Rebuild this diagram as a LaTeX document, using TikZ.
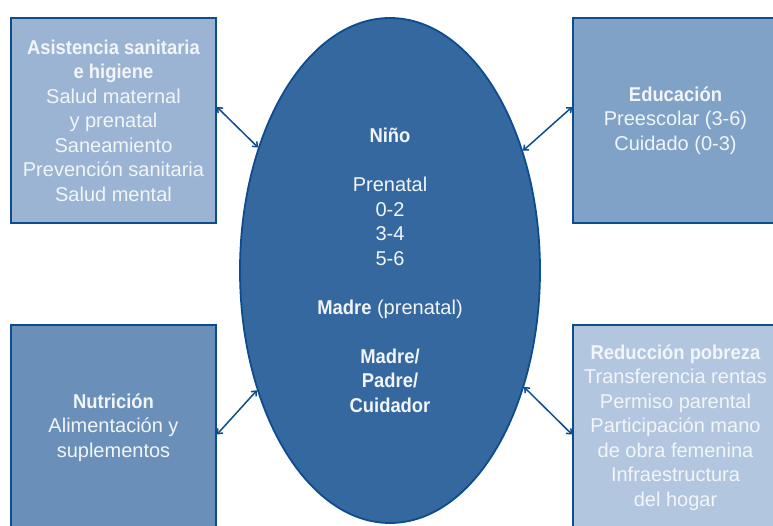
\documentclass[tikz,border=0pt]{standalone}
\usepackage{fontspec}
\setmainfont{Liberation Sans}[BoldFeatures={FakeStretch=0.92}]
\usetikzlibrary{arrows.meta,shapes.geometric}
\definecolor{rim}{HTML}{0D4C8E}
\definecolor{ovalblue}{HTML}{35689F}
\definecolor{boxA}{HTML}{9BB4D3}
\definecolor{boxB}{HTML}{7FA2C6}
\definecolor{boxC}{HTML}{6A90B9}
\definecolor{boxD}{HTML}{B2C7DF}
\definecolor{paletext}{HTML}{F2F5F9}
\tikzset{
	areabox/.style={draw=rim, line width=1.8pt, inner sep=0pt, minimum width=205pt,
		minimum height=205pt, text=paletext, align=center,
		font=\fontsize{20pt}{24.5pt}\selectfont},
	link/.style={draw=rim, line width=1.5pt, {Straight Barb[length=4pt,width=7pt]}-{Straight Barb[length=4pt,width=7pt]}}
}
\begin{document}
\begin{tikzpicture}
			\useasboundingbox (0,0) rectangle (773pt,525pt);
			\clip (0,0) rectangle (773pt,525pt);
			% the four areas
			\node[areabox, fill=boxA] (health) at (113.5pt,404.5pt) {\textbf{Asistencia sanitaria}\\\textbf{e higiene}\\Salud maternal\\y prenatal\\Saneamiento\\Prevención sanitaria\\Salud mental};
			\node[areabox, fill=boxB] (school) at (675.5pt,404.5pt) {\textbf{Educación}\\Preescolar (3-6)\\Cuidado (0-3)};
			\node[areabox, fill=boxC] (food) at (113.5pt,97.5pt) {\textbf{Nutrición}\\Alimentación y\\suplementos};
			\node[areabox, fill=boxD] (poverty) at (675.5pt,97.5pt) {\textbf{Reducción pobreza}\\Transferencia rentas\\Permiso parental\\Participación mano\\de obra femenina\\Infraestructura\\del hogar};
			% the child in the middle
			\node[ellipse, draw=rim, line width=1.8pt, fill=ovalblue, text=paletext, inner sep=0pt,
				minimum width=300pt, minimum height=505pt, align=center,
				font=\fontsize{20pt}{24.5pt}\selectfont] (child) at (390pt,254.5pt)
				{\textbf{Niño}\\[24.5pt]Prenatal\\0-2\\3-4\\5-6\\[24.5pt]\textbf{Madre} (prenatal)\\[24.5pt]\textbf{Madre/}\\\textbf{Padre/}\\\textbf{Cuidador}};
			\draw[link] ([yshift=13.5pt]health.east) -- (child.137);
			\draw[link] ([yshift=13.5pt]school.west) -- (child.42);
			\draw[link] ([yshift=-7pt]food.east) -- (child.222);
			\draw[link] ([yshift=-7pt]poverty.west) -- (child.-41);
		\end{tikzpicture}
\end{document}
